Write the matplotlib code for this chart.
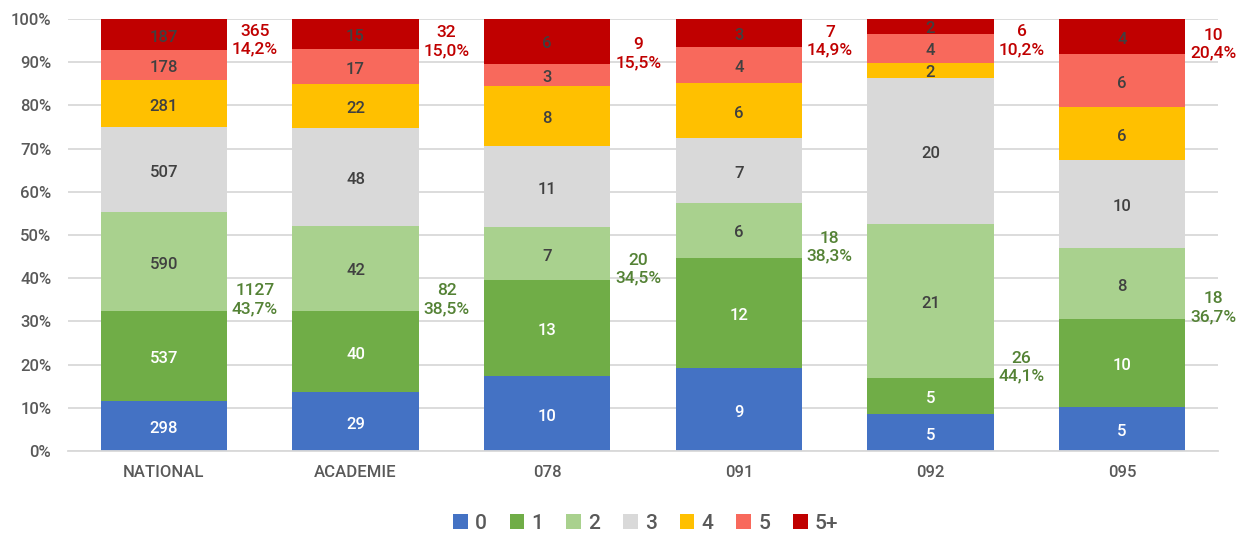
import numpy as np
import matplotlib.pyplot as plt
from matplotlib.patches import Patch

plt.rcParams['font.family'] = ['Roboto', 'DejaVu Sans']
plt.rcParams['font.weight'] = 'medium'

# données
categories = ['NATIONAL', 'ACADEMIE', '078', '091', '092', '095']
series = ['0', '1', '2', '3', '4', '5', '5+']
v0 = [298, 29, 10, 9, 5, 5]
v1 = [537, 40, 13, 12, 5, 10]
v2 = [590, 42, 7, 6, 21, 8]
v3 = [507, 48, 11, 7, 20, 10]
v4 = [281, 22, 8, 6, 2, 6]
v5 = [178, 17, 3, 4, 4, 6]
v5p = [187, 15, 6, 3, 2, 4]

couleurs = ['#4472C4', '#70AD47', '#A9D18E', '#D9D9D9', '#FFC000', '#F8695C', '#C00000']

# position verticale des annotations (en %)
y_vert = [35.0, 35.0, 42.1, 47.2, 19.4, 33.1]
y_rouge = [95.1, 94.7, 91.9, 94.9, 95.0, 94.2]

valeurs = np.array([v0, v1, v2, v3, v4, v5, v5p], dtype=float)
totaux = valeurs.sum(axis=0)
pct = valeurs / totaux * 100

fig = plt.figure(figsize=(12.37, 5.33), dpi=100)
ax = fig.add_axes([0.055, 0.154, 0.9296, 0.8104])

x = np.arange(len(categories))
bas = np.zeros(len(categories))
for i in range(len(series)):
    ax.bar(x, pct[i], bottom=bas, width=0.66, color=couleurs[i], linewidth=0, zorder=2)
    for j in range(len(categories)):
        coul = 'white' if i in (0, 1) else '#404040'
        ax.text(x[j], bas[j] + pct[i][j] / 2 - 0.6, str(int(valeurs[i][j])), ha='center', va='center',
                fontsize=12, color=coul, zorder=3)
    bas += pct[i]

# annotations 1+2 (vert) et 5+5+ (rouge)
for j in range(len(categories)):
    n12 = int(valeurs[1][j] + valeurs[2][j])
    n55 = int(valeurs[5][j] + valeurs[6][j])
    p12 = n12 / totaux[j] * 100
    p55 = n55 / totaux[j] * 100
    ax.text(x[j] + 0.475, y_vert[j], '%d\n%s%%' % (n12, ('%.1f' % p12).replace('.', ',')),
            ha='center', va='center', fontsize=12.5, color='#548235', linespacing=1.25)
    ax.text(x[j] + 0.475, y_rouge[j], '%d\n%s%%' % (n55, ('%.1f' % p55).replace('.', ',')),
            ha='center', va='center', fontsize=12.5, color='#C00000', linespacing=1.25)

ax.set_xlim(-0.5, len(categories) - 0.5)
ax.set_ylim(0, 100)
ax.set_yticks(range(0, 101, 10))
ax.set_yticklabels(['%d%%' % t for t in range(0, 101, 10)])
ax.set_xticks(x)
ax.set_xticklabels(categories)
ax.tick_params(axis='both', length=0, labelsize=12, colors='#595959')
ax.tick_params(axis='x', pad=10)
ax.tick_params(axis='y', pad=12)
ax.grid(axis='y', color='#D9D9D9', linewidth=1.3, zorder=0)
for s in ['top', 'right', 'left']:
    ax.spines[s].set_visible(False)
ax.spines['bottom'].set_color('#D9D9D9')
ax.spines['bottom'].set_linewidth(1.3)

handles = [Patch(facecolor=c, label=s) for c, s in zip(couleurs, series)]
fig.legend(handles=handles, loc='center', bbox_to_anchor=(0.522, 0.018), ncol=7, frameon=False,
           fontsize=15, handlelength=0.7, handleheight=0.7, handletextpad=0.35, columnspacing=1.1,
           labelcolor='#595959')

fig.savefig('out.png', dpi=100)
